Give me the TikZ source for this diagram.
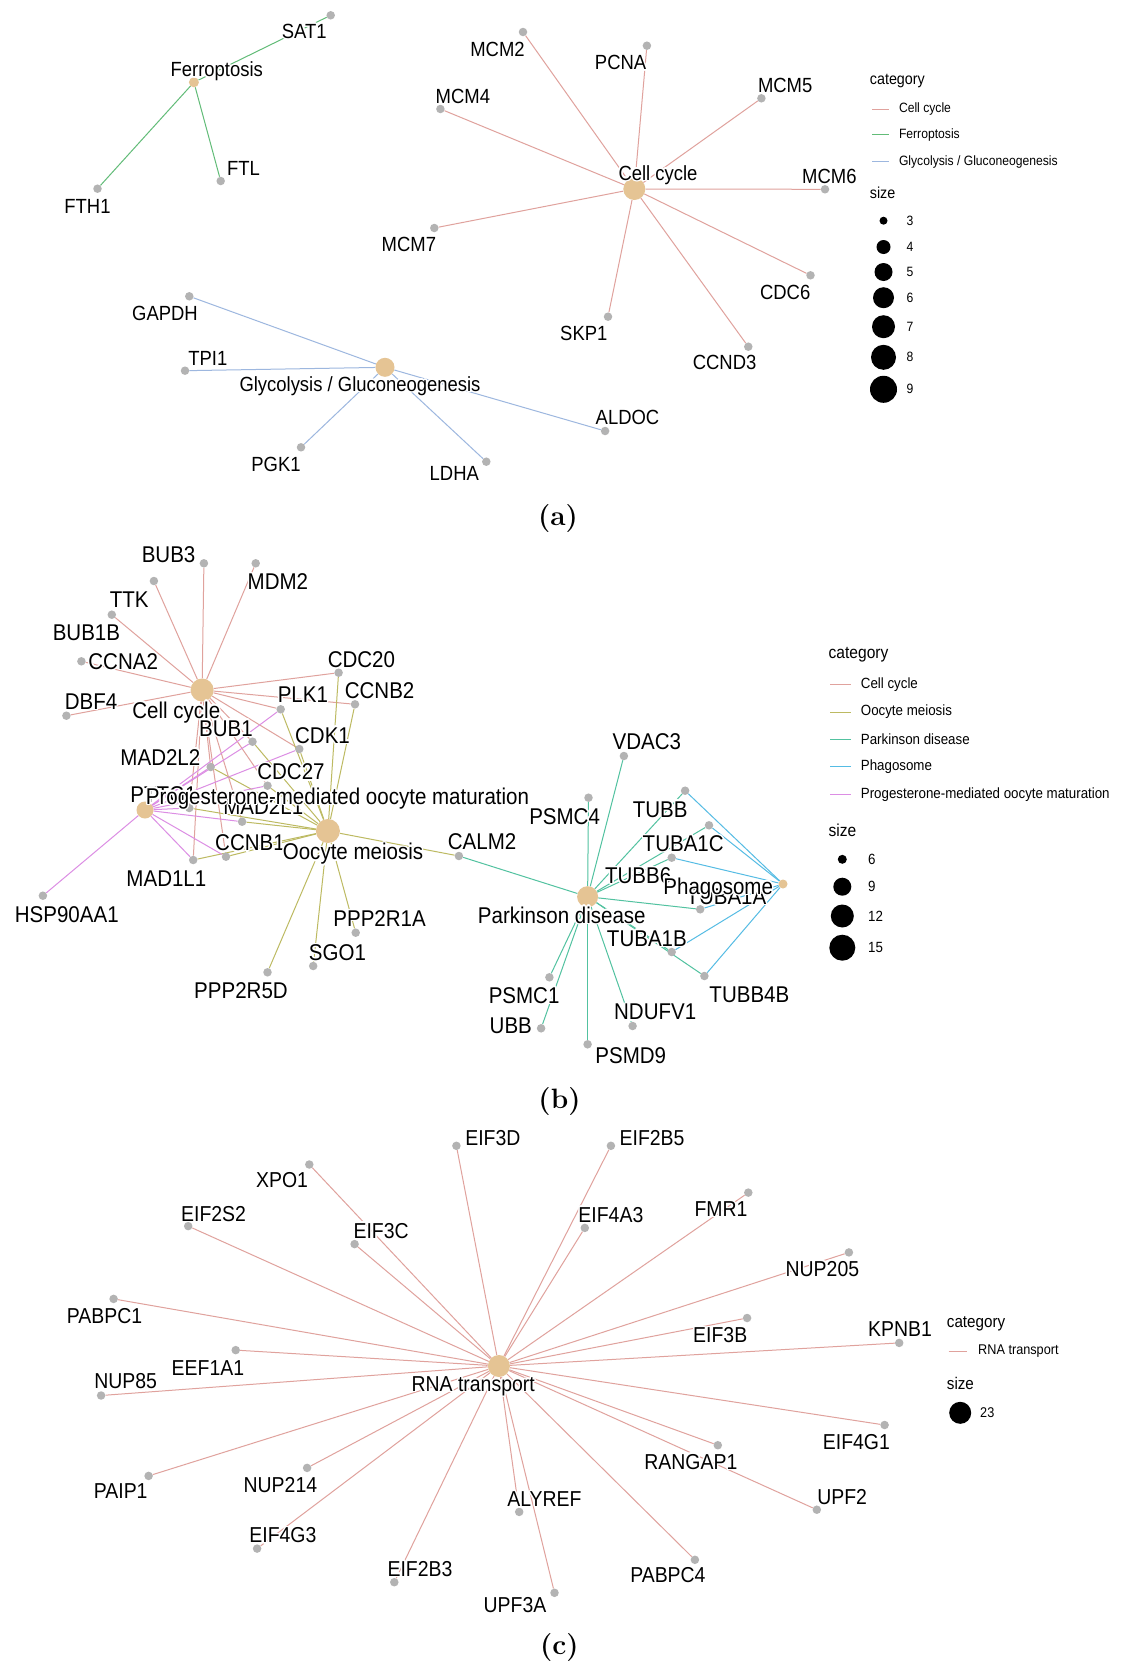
\documentclass[tikz,border=0pt]{standalone}
\usepackage{fontspec}
\newfontfamily\labfont{Liberation Sans}[FakeStretch=0.9]
\usepackage[copies]{contour}
\contourlength{1.4pt}
\contournumber{16}
\pgfdeclarelayer{bg}
\pgfdeclarelayer{fg}
\pgfsetlayers{bg,main,fg}
\definecolor{cattan}{HTML}{E5C494}
\definecolor{dotgray}{HTML}{B3B3B3}
\definecolor{cRed}{HTML}{E0A29D}
\definecolor{cGreen}{HTML}{62BC78}
\definecolor{cBlue}{HTML}{9DB7DF}
\definecolor{cOlive}{HTML}{BDBA62}
\definecolor{cTeal}{HTML}{52C2A0}
\definecolor{cSky}{HTML}{55BCE4}
\definecolor{cViolet}{HTML}{DC8EE4}
\tikzset{
  gdot/.style={circle, fill=dotgray, draw=none, inner sep=0pt, minimum size=8.5pt},
  catdot/.style={circle, fill=cattan, draw=none, inner sep=0pt, minimum size=#1},
  labA/.style={inner sep=0pt, font=\fontsize{20.5}{22}\labfont, text height=14.7pt, text depth=0pt},
  labB/.style={inner sep=0pt, font=\fontsize{22.8}{24}\labfont, text height=16.3pt, text depth=0pt},
  labC/.style={inner sep=0pt, font=\fontsize{21.6}{23}\labfont, text height=15.5pt, text depth=0pt},
  edgeline/.style={line width=1pt},
  eRed/.style={edgeline, draw=cRed},
  eGreen/.style={edgeline, draw=cGreen},
  eBlue/.style={edgeline, draw=cBlue},
  eOlive/.style={edgeline, draw=cOlive},
  eTeal/.style={edgeline, draw=cTeal},
  eSky/.style={edgeline, draw=cSky},
  eViolet/.style={edgeline, draw=cViolet},
  keyline/.style={line width=1pt},
  ltitleA/.style={anchor=west, inner sep=0pt, font=\fontsize{15.9}{17}\labfont},
  lentA/.style={anchor=west, inner sep=0pt, font=\fontsize{13.5}{15}\labfont},
  ltitleB/.style={anchor=west, inner sep=0pt, font=\fontsize{17.3}{19}\labfont},
  lentB/.style={anchor=west, inner sep=0pt, font=\fontsize{14.8}{16}\labfont},
  ltitleC/.style={anchor=west, inner sep=0pt, font=\fontsize{16.9}{18}\labfont},
  lentC/.style={anchor=west, inner sep=0pt, font=\fontsize{14.1}{16}\labfont},
  sizedot/.style={circle, fill=black, draw=none, inner sep=0pt, minimum size=#1},
  capt/.style={inner sep=0pt, font=\fontsize{28}{30}\selectfont\bfseries}
}
% gene: name, x, y, label x, label y, text, label style
\newcommand{\genenode}[7]{%
  \node[gdot] (#1) at (#2,#3) {};
  \begin{pgfonlayer}{fg}\node[#7] (#1t) at (#4,#5) {\contour{white}{#6}};\end{pgfonlayer}}
% category: name, x, y, size, label x, label y, text, label style
\newcommand{\catnode}[8]{%
  \node[catdot=#4] (#1) at (#2,#3) {};
  \begin{pgfonlayer}{fg}\node[#8] (#1t) at (#5,#6) {\contour{white}{#7}};\end{pgfonlayer}}
\begin{document}
\begin{tikzpicture}[x=1pt, y=-1pt]
\begin{pgfonlayer}{bg}
\fill[white] (0,0) rectangle (1121,1665);
\end{pgfonlayer}
\useasboundingbox (0,0) rectangle (1121,1665);

%%%%%%%%%%%%%%%% (a)
\genenode{aSAT1}{330.7}{15.3}{304.3}{31}{SAT1}{labA}
\genenode{aFTL}{220.7}{181}{243.6}{168.3}{FTL}{labA}
\genenode{aFTH1}{97.5}{188.7}{87.5}{205.7}{FTH1}{labA}
\genenode{aMCM2}{523}{32}{497.5}{49.3}{MCM2}{labA}
\genenode{aPCNA}{646.9}{45.7}{620.6}{62.3}{PCNA}{labA}
\genenode{aMCM4}{440.4}{109}{462.9}{96}{MCM4}{labA}
\genenode{aMCM5}{761.4}{98.3}{785.2}{84.7}{MCM5}{labA}
\genenode{aMCM6}{825}{189.3}{829.4}{175.7}{MCM6}{labA}
\genenode{aMCM7}{434.3}{228}{408.9}{244.3}{MCM7}{labA}
\genenode{aCDC6}{810.5}{275.3}{785.2}{292.3}{CDC6}{labA}
\genenode{aSKP1}{608}{316.7}{583.8}{333.3}{SKP1}{labA}
\genenode{aCCND3}{748.3}{346.7}{724.6}{362.3}{CCND3}{labA}
\genenode{aGAPDH}{189.3}{296.3}{165}{313.3}{GAPDH}{labA}
\genenode{aTPI1}{185}{370.7}{207.9}{357.7}{TPI1}{labA}
\genenode{aALDOC}{605.1}{431}{627.5}{416.7}{ALDOC}{labA}
\genenode{aPGK1}{301}{447.3}{276}{464}{PGK1}{labA}
\genenode{aLDHA}{486.3}{461.7}{454.3}{473.3}{LDHA}{labA}
\catnode{aFerro}{193.9}{82.3}{10pt}{216.8}{69.3}{Ferroptosis}{labA}
\catnode{aCell}{634.3}{189}{22pt}{658}{172.7}{Cell cycle}{labA}
\catnode{aGly}{385}{367.3}{19pt}{360}{384}{Glycolysis / Gluconeogenesis}{labA}
\begin{pgfonlayer}{bg}
\foreach \g in {SAT1,FTL,FTH1} \draw[eGreen] (aFerro) -- (a\g);
\foreach \g in {MCM2,PCNA,MCM4,MCM5,MCM6,MCM7,CDC6,SKP1,CCND3} \draw[eRed] (aCell) -- (a\g);
\foreach \g in {GAPDH,TPI1,ALDOC,PGK1,LDHA} \draw[eBlue] (aGly) -- (a\g);
\end{pgfonlayer}
% legend (a)
\node[ltitleA] (aLcat) at (869.7,81) {category};
\draw[keyline, cRed] (872,109) -- (889,109);
\draw[keyline, cGreen] (872,134.7) -- (889,134.7);
\draw[keyline, cBlue] (872,161.7) -- (889,161.7);
\node[lentA] (aL1) at (898.8,109) {Cell cycle};
\node[lentA] (aL2) at (898.8,134.7) {Ferroptosis};
\node[lentA] (aL3) at (898.8,161.7) {Glycolysis / Gluconeogenesis};
\node[ltitleA] (aLsize) at (869.7,193.3) {size};
\node[sizedot=8pt] (aS3) at (883.5,220.7) {};
\node[sizedot=14pt] (aS4) at (883.5,247) {};
\node[sizedot=18pt] (aS5) at (883.5,272) {};
\node[sizedot=21pt] (aS6) at (883.5,297.7) {};
\node[sizedot=23pt] (aS7) at (883.5,326.7) {};
\node[sizedot=25pt] (aS8) at (883.5,357.3) {};
\node[sizedot=27pt] (aS9) at (883.5,389.3) {};
\node[lentA] (aS3t) at (906.5,220.7) {3};
\node[lentA] (aS4t) at (906.5,247) {4};
\node[lentA] (aS5t) at (906.5,272) {5};
\node[lentA] (aS6t) at (906.5,297.7) {6};
\node[lentA] (aS7t) at (906.5,326.7) {7};
\node[lentA] (aS8t) at (906.5,357.3) {8};
\node[lentA] (aS9t) at (906.5,389.3) {9};
\node[capt] (capa) at (558,518.5) {(a)};

%%%%%%%%%%%%%%%% (b)
\genenode{bBUB3}{203.9}{563.3}{168.6}{554.3}{BUB3}{labB}
\genenode{bMDM2}{255.7}{563.3}{277.9}{581.7}{MDM2}{labB}
\genenode{bTTK}{153.9}{581}{129.3}{599.3}{TTK}{labB}
\genenode{bBUB1B}{111.8}{614.7}{86.4}{632.7}{BUB1B}{labB}
\genenode{bCCNA2}{81.4}{661.3}{123.2}{661.3}{CCNA2}{labB}
\genenode{bDBF4}{66.4}{715.7}{91.1}{701}{DBF4}{labB}
\genenode{bCDC20}{338.6}{672.7}{361.4}{659}{CDC20}{labB}
\genenode{bPLK1}{280.7}{709.3}{302.9}{694.3}{PLK1}{labB}
\genenode{bCCNB2}{355}{704.3}{379.6}{690.3}{CCNB2}{labB}
\genenode{bBUB1}{252.5}{741.7}{226}{728}{BUB1}{labB}
\genenode{bCDK1}{299.3}{749}{322.5}{735}{CDK1}{labB}
\genenode{bMADtwoLtwo}{210.7}{767}{160.4}{757}{MAD2L2}{labB}
\genenode{bCDC27}{267.5}{785.7}{291}{771.7}{CDC27}{labB}
\genenode{bPTTG1}{189.3}{808}{163.4}{794}{PTTG1}{labB}
\genenode{bMADtwoLone}{242.1}{821.7}{263.3}{806}{MAD2L1}{labB}
\genenode{bCCNB1}{226}{856.7}{250}{842.7}{CCNB1}{labB}
\genenode{bMADoneLone}{193.2}{860}{166.4}{878.3}{MAD1L1}{labB}
\genenode{bHSP}{42.9}{895.7}{66.8}{914.3}{HSP90AA1}{labB}
\genenode{bCALM2}{458.9}{856}{482.1}{841}{CALM2}{labB}
\genenode{bPPPtwoRoneA}{355.7}{932.7}{379.6}{918.3}{PPP2R1A}{labB}
\genenode{bSGO1}{313.2}{966}{337.5}{952.3}{SGO1}{labB}
\genenode{bPPPtwoRfiveD}{267.5}{972.3}{241}{990}{PPP2R5D}{labB}
\genenode{bVDAC3}{623.9}{756}{646.9}{741.7}{VDAC3}{labB}
\genenode{bPSMC4}{588.5}{797.7}{564.6}{816}{PSMC4}{labB}
\genenode{bTUBB}{685.1}{790.7}{660.2}{809}{TUBB}{labB}
\genenode{bTUBA1C}{709}{825.3}{683.2}{843.3}{TUBA1C}{labB}
\genenode{bTUBB6}{671.7}{857.7}{638.2}{875.3}{TUBB6}{labB}
\genenode{bTUBA1A}{700.2}{909.3}{726.4}{896}{TUBA1A}{labB}
\genenode{bTUBA1B}{671.7}{952}{646.9}{938}{TUBA1B}{labB}
\genenode{bTUBB4B}{704.4}{976}{749.4}{994}{TUBB4B}{labB}
\genenode{bPSMC1}{549.4}{977.3}{524.1}{995}{PSMC1}{labB}
\genenode{bUBB}{541.1}{1028.3}{510.8}{1025}{UBB}{labB}
\genenode{bNDUFV1}{632.6}{1026}{655.2}{1011.7}{NDUFV1}{labB}
\genenode{bPSMD9}{587.6}{1044.3}{630.8}{1055.7}{PSMD9}{labB}
\catnode{bCell}{202.1}{690}{23pt}{176.3}{710}{Cell cycle}{labB}
\catnode{bOoc}{327.9}{831}{24pt}{353}{851.7}{Oocyte meiosis}{labB}
\catnode{bProg}{145}{810}{17pt}{337.5}{796}{Progesterone-mediated oocyte maturation}{labB}
\catnode{bPark}{587.6}{896.7}{21pt}{561.8}{915}{Parkinson disease}{labB}
\catnode{bPhag}{783}{884}{9pt}{718.2}{886}{Phagosome}{labB}
\begin{pgfonlayer}{bg}
\foreach \g in {BUB3,MDM2,TTK,BUB1B,CCNA2,DBF4,CDC20,PLK1,CCNB2,BUB1,CDK1,MADtwoLtwo,CDC27,PTTG1,MADtwoLone,CCNB1,MADoneLone}
  \draw[eRed] (bCell) -- (b\g);
\foreach \g in {CDC20,CCNB2,PLK1,CDK1,BUB1,MADtwoLtwo,CDC27,PTTG1,MADtwoLone,CCNB1,MADoneLone,CALM2,PPPtwoRoneA,SGO1,PPPtwoRfiveD}
  \draw[eOlive] (bOoc) -- (b\g);
\foreach \g in {PLK1,BUB1,CDK1,MADtwoLtwo,CDC27,PTTG1,MADtwoLone,CCNB1,MADoneLone,HSP}
  \draw[eViolet] (bProg) -- (b\g);
\foreach \g in {CALM2,VDAC3,PSMC4,TUBB,TUBA1C,TUBB6,TUBA1A,TUBA1B,TUBB4B,PSMC1,UBB,NDUFV1,PSMD9}
  \draw[eTeal] (bPark) -- (b\g);
\foreach \g in {TUBB,TUBA1C,TUBB6,TUBA1A,TUBA1B,TUBB4B}
  \draw[eSky] (bPhag) -- (b\g);
\end{pgfonlayer}
% legend (b)
\node[ltitleB] (bLcat) at (828.5,655) {category};
\draw[keyline, cRed] (830,684.3) -- (850.6,684.3);
\draw[keyline, cOlive] (830,712) -- (850.6,712);
\draw[keyline, cTeal] (830,739.3) -- (850.6,739.3);
\draw[keyline, cSky] (830,766.7) -- (850.6,766.7);
\draw[keyline, cViolet] (830,794.3) -- (850.6,794.3);
\node[lentB] (bL1) at (860.7,684.3) {Cell cycle};
\node[lentB] (bL2) at (860.7,712) {Oocyte meiosis};
\node[lentB] (bL3) at (860.7,739.3) {Parkinson disease};
\node[lentB] (bL4) at (860.7,766.7) {Phagosome};
\node[lentB] (bL5) at (860.7,794.3) {Progesterone-mediated oocyte maturation};
\node[ltitleB] (bLsize) at (828.5,830) {size};
\node[sizedot=9pt] (bS6) at (842.3,859.3) {};
\node[sizedot=18pt] (bS9) at (842.3,886.7) {};
\node[sizedot=23pt] (bS12) at (842.3,916) {};
\node[sizedot=26pt] (bS15) at (842.3,947.7) {};
\node[lentB] (bS6t) at (868,859.3) {6};
\node[lentB] (bS9t) at (868,886.7) {9};
\node[lentB] (bS12t) at (868,916) {12};
\node[lentB] (bS15t) at (868,947.7) {15};
\node[capt] (capb) at (559.5,1102) {(b)};

%%%%%%%%%%%%%%%% (c)
\genenode{cEIF3D}{456.4}{1145.8}{492.9}{1137.8}{EIF3D}{labC}
\genenode{cEIF2B5}{610.9}{1145.8}{652.1}{1137.8}{EIF2B5}{labC}
\genenode{cXPO1}{309.3}{1164.5}{282.1}{1180}{XPO1}{labC}
\genenode{cEIF2S2}{188.2}{1226.1}{213.6}{1213.5}{EIF2S2}{labC}
\genenode{cEIF3C}{354.6}{1244.1}{381.1}{1230.5}{EIF3C}{labC}
\genenode{cEIF4A3}{584.8}{1227.9}{610.9}{1214.6}{EIF4A3}{labC}
\genenode{cFMR1}{748.3}{1192.6}{721}{1208.8}{FMR1}{labC}
\genenode{cNUP205}{848.9}{1252.4}{822.4}{1268.6}{NUP205}{labC}
\genenode{cPABPC1}{113.6}{1298.9}{104.6}{1316.2}{PABPC1}{labC}
\genenode{cEIF3B}{747.1}{1318}{720.2}{1335}{EIF3B}{labC}
\genenode{cEEF1A1}{235.7}{1350.1}{207.9}{1367.4}{EEF1A1}{labC}
\genenode{cKPNB1}{899.2}{1342.9}{900}{1329.2}{KPNB1}{labC}
\genenode{cNUP85}{101.1}{1395.5}{125.7}{1381.1}{NUP85}{labC}
\genenode{cEIF4G1}{884.6}{1425}{856.4}{1441.6}{EIF4G1}{labC}
\genenode{cRANGAP1}{717.8}{1445.2}{690.9}{1461.4}{RANGAP1}{labC}
\genenode{cPAIP1}{148.6}{1475.9}{120.7}{1491}{PAIP1}{labC}
\genenode{cNUP214}{307.1}{1467.9}{280.4}{1484.9}{NUP214}{labC}
\genenode{cALYREF}{519.2}{1511.9}{544.4}{1498.9}{ALYREF}{labC}
\genenode{cUPF2}{816.8}{1509.7}{842.2}{1496.4}{UPF2}{labC}
\genenode{cEIF4G3}{257.1}{1548.6}{282.9}{1535}{EIF4G3}{labC}
\genenode{cPABPC4}{694.9}{1559.8}{667.9}{1575}{PABPC4}{labC}
\genenode{cEIF2B3}{394.3}{1582.2}{420}{1568.5}{EIF2B3}{labC}
\genenode{cUPF3A}{554.5}{1592.8}{515}{1604.5}{UPF3A}{labC}
\catnode{cRNA}{498.9}{1366}{22pt}{473.2}{1383.6}{RNA transport}{labC}
\begin{pgfonlayer}{bg}
\foreach \g in {EIF3D,EIF2B5,XPO1,EIF2S2,EIF3C,EIF4A3,FMR1,NUP205,PABPC1,EIF3B,EEF1A1,KPNB1,NUP85,EIF4G1,RANGAP1,PAIP1,NUP214,ALYREF,UPF2,EIF4G3,PABPC4,EIF2B3,UPF3A}
  \draw[eRed] (cRNA) -- (c\g);
\end{pgfonlayer}
% legend (c)
\node[ltitleC] (cLcat) at (946.7,1324.1) {category};
\draw[keyline, cRed] (948.7,1351.2) -- (967.3,1351.2);
\node[lentC] (cL1) at (978,1351.2) {RNA transport};
\node[ltitleC] (cLsize) at (946.7,1383.6) {size};
\node[sizedot=22pt] (cS23) at (960.2,1412.8) {};
\node[lentC] (cS23t) at (980,1412.8) {23};
\node[capt] (capc) at (559.4,1647.7) {(c)};
\end{tikzpicture}
\end{document}
